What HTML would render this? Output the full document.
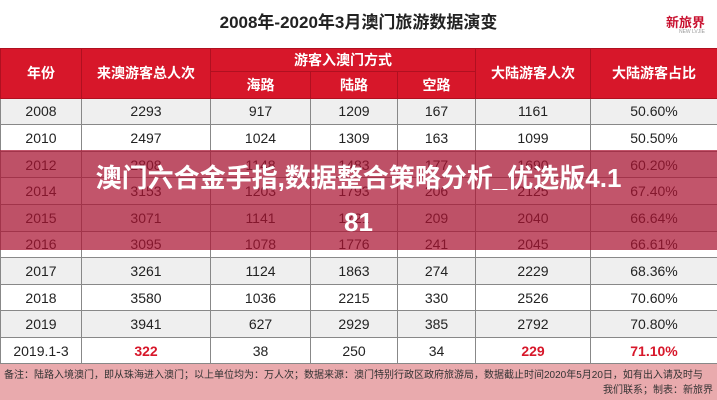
<!DOCTYPE html>
<html><head><meta charset="utf-8"><style>
*{margin:0;padding:0;box-sizing:border-box}
body{width:717px;height:400px;overflow:hidden;background:#fff;font-family:"Liberation Sans","Noto Sans CJK SC",sans-serif;position:relative}
.title{position:absolute;left:0;top:0;width:717px;height:48px;text-align:center;line-height:46px;font-size:17px;font-weight:bold;color:#222}
.logo{position:absolute;right:12px;top:12px;color:#c8102e;font-size:13px;font-weight:bold}
.logo small{display:block;font-size:5px;color:#999;text-align:right;font-weight:normal;margin-top:-2px}
table{position:absolute;left:0;top:48px;width:717px;border-collapse:collapse;table-layout:fixed}
td,th{border:1px solid #888;text-align:center;font-size:14px;color:#222;height:26.6px;font-weight:normal}
th{background:#d7172a;color:#fff;font-weight:bold;font-size:14px;border-color:#b01020}
tr.g td{background:#efefef}
.r{color:#d7172a;font-weight:bold}
.foot{position:absolute;left:0;top:363px;width:717px;height:37px;background:#e9aaad;font-size:10px;color:#333;padding:4px 4px;line-height:15px;border-top:1px solid #888}
.band{position:absolute;left:0;top:150px;width:717px;height:100px;background:rgba(170,20,50,0.72);color:#fff;font-weight:bold;font-size:26px;text-align:center;line-height:44px;padding-top:6px}
</style></head><body>
<div class="title">2008年-2020年3月澳门旅游数据演变</div>
<div class="logo">新旅界<small>NEW LVJIE</small></div>
<table>
<colgroup><col style="width:81px"><col style="width:129px"><col style="width:100px"><col style="width:87px"><col style="width:78px"><col style="width:115px"><col style="width:127px"></colgroup>
<tr><th rowspan="2" style="height:49px">年份</th><th rowspan="2">来澳游客总人次</th><th colspan="3" style="height:23px">游客入澳门方式</th><th rowspan="2">大陆游客人次</th><th rowspan="2">大陆游客占比</th></tr>
<tr><th style="height:26px">海路</th><th>陆路</th><th>空路</th></tr>
<tr class="g"><td>2008</td><td>2293</td><td>917</td><td>1209</td><td>167</td><td>1161</td><td>50.60%</td></tr>
<tr><td>2010</td><td>2497</td><td>1024</td><td>1309</td><td>163</td><td>1099</td><td>50.50%</td></tr>
<tr class="g"><td>2012</td><td>2808</td><td>1148</td><td>1483</td><td>177</td><td>1690</td><td>60.20%</td></tr>
<tr><td>2014</td><td>3153</td><td>1203</td><td>1793</td><td>206</td><td>2125</td><td>67.40%</td></tr>
<tr class="g"><td>2015</td><td>3071</td><td>1141</td><td>1721</td><td>209</td><td>2040</td><td>66.64%</td></tr>
<tr><td>2016</td><td>3095</td><td>1078</td><td>1776</td><td>241</td><td>2045</td><td>66.61%</td></tr>
<tr class="g"><td>2017</td><td>3261</td><td>1124</td><td>1863</td><td>274</td><td>2229</td><td>68.36%</td></tr>
<tr><td>2018</td><td>3580</td><td>1036</td><td>2215</td><td>330</td><td>2526</td><td>70.60%</td></tr>
<tr class="g"><td>2019</td><td>3941</td><td>627</td><td>2929</td><td>385</td><td>2792</td><td>70.80%</td></tr>
<tr><td>2019.1-3</td><td class="r">322</td><td>38</td><td>250</td><td>34</td><td class="r">229</td><td class="r">71.10%</td></tr>
</table>
<div class="foot">备注：陆路入境澳门，即从珠海进入澳门；以上单位均为：万人次；数据来源：澳门特别行政区政府旅游局，数据截止时间2020年5月20日，如有出入请及时与<div style="text-align:right">我们联系；制表：新旅界</div></div>
<div class="band">澳门六合金手指,数据整合策略分析_优选版4.1<br>81</div>
</body></html>
